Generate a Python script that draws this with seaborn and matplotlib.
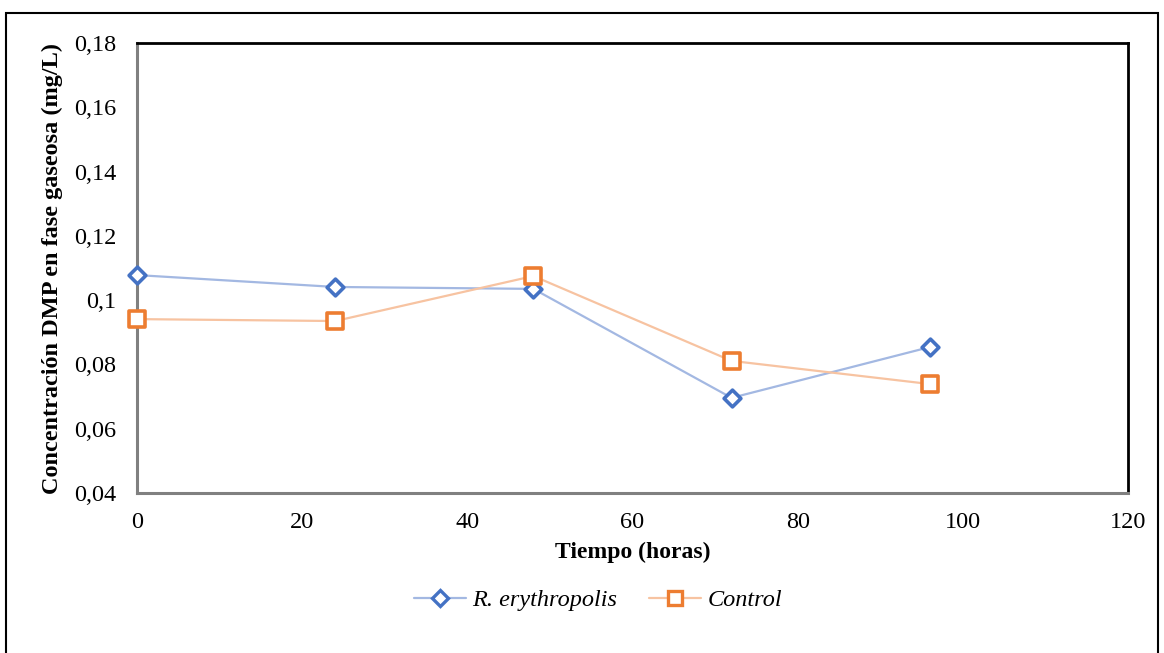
import matplotlib
matplotlib.use("Agg")
import matplotlib.pyplot as plt
import seaborn as sns
import pandas as pd
from matplotlib.patches import Rectangle

horas = [0, 24, 48, 72, 96]
r_erythropolis = [0.1078, 0.1041, 0.1035, 0.0696, 0.0854]
control = [0.0941, 0.0935, 0.1075, 0.0811, 0.0739]
series = ["R. erythropolis", "Control"]

df = pd.DataFrame({
    "Tiempo": horas * 2,
    "Conc": r_erythropolis + control,
    "Serie": [series[0]] * len(horas) + [series[1]] * len(horas),
})

sns.set_theme(style="white")
plt.rcParams["font.family"] = ["Liberation Serif", "DejaVu Serif"]
plt.rcParams["text.color"] = "black"
plt.rcParams["axes.labelcolor"] = "black"

fig = plt.figure(figsize=(11.64, 6.53), dpi=100)
ax = fig.add_axes([137 / 1164, 1 - 493 / 653, (1128 - 137) / 1164, (493 - 43) / 653])

blue, orange = "#4472C4", "#ED7D31"
line_colors = {"R. erythropolis": "#A3B8E2", "Control": "#F7C3A1"}
sns.lineplot(data=df, x="Tiempo", y="Conc", hue="Serie", palette=line_colors,
             ax=ax, legend=False, linewidth=1.6)
for name, vals, col, mk, ms in [(series[0], r_erythropolis, blue, "D", 9),
                                (series[1], control, orange, "s", 12)]:
    sns.scatterplot(x=horas, y=vals, ax=ax, marker=mk, s=ms ** 2 * 0.9,
                    facecolor="white", edgecolor=col, linewidth=2.6, zorder=5)
for coll in ax.collections:
    coll.set_clip_on(False)

ax.set_xlim(0, 120)
ax.set_ylim(0.04, 0.18)
ax.set_xticks(range(0, 121, 20))
yt = [0.04 + 0.02 * i for i in range(8)]
ax.set_yticks(yt)
ax.set_yticklabels([f"{v:.2f}".rstrip("0").replace(".", ",") for v in yt])
ax.tick_params(axis="both", labelsize=17.5, length=0, colors="black")
ax.tick_params(axis="x", pad=14)
ax.tick_params(axis="y", pad=15)

for s in ["left", "bottom"]:
    ax.spines[s].set_color("#808080")
    ax.spines[s].set_linewidth(2.2)
for s in ["top", "right"]:
    ax.spines[s].set_color("black")
    ax.spines[s].set_linewidth(2.0)

ax.set_xlabel("Tiempo (horas)", fontsize=17, fontweight="bold", labelpad=6)
ax.set_ylabel("Concentración DMP en fase gaseosa (mg/L)", fontsize=17.5,
              fontweight="bold", labelpad=8)

handles = [
    plt.Line2D([], [], color=line_colors[series[0]], lw=1.6, marker="D", ms=8,
               mfc="white", mec=blue, mew=2.4),
    plt.Line2D([], [], color=line_colors[series[1]], lw=1.6, marker="s", ms=10,
               mfc="white", mec=orange, mew=2.4),
]
fig.legend(handles, series, loc="center", bbox_to_anchor=(598 / 1164, 1 - 600 / 653),
           ncol=2, frameon=False,
           prop={"family": "Liberation Serif", "style": "italic", "size": 17.5},
           handlelength=2.15, columnspacing=1.3, handletextpad=0.25)

fig.patches.append(Rectangle((6 / 1164, -0.01), (1158 - 6) / 1164, 1 - 13 / 653 + 0.01,
                             transform=fig.transFigure, fill=False, edgecolor="black",
                             linewidth=1.5))

fig.savefig("out.png", dpi=100)
